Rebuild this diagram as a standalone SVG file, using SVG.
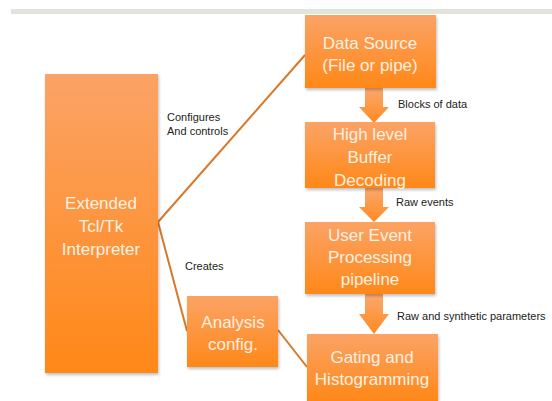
<svg xmlns="http://www.w3.org/2000/svg" width="552" height="401" viewBox="0 0 552 401">
<defs>
<linearGradient id="og" x1="0" y1="0" x2="0" y2="1">
<stop offset="0" stop-color="#fba366"/>
<stop offset="1" stop-color="#ff8818"/>
</linearGradient>
<linearGradient id="ag" x1="0" y1="0" x2="0" y2="1">
<stop offset="0" stop-color="#fba86e"/>
<stop offset="1" stop-color="#ff8a22"/>
</linearGradient>
<filter id="sh" x="-10%" y="-10%" width="130%" height="130%">
<feDropShadow dx="1" dy="2" stdDeviation="1.5" flood-color="#000" flood-opacity="0.25"/>
</filter>
<style>
.box{fill:url(#og);filter:url(#sh)}
.bt{font-family:"Liberation Sans",Arial,sans-serif;font-size:17px;fill:#fff0e2;text-anchor:middle;dominant-baseline:central}
.lb{font-family:"Liberation Sans",Arial,sans-serif;font-size:11px;fill:#222;dominant-baseline:central}
.ln{stroke:#d8782a;stroke-width:2;fill:none}
.ar{fill:url(#ag)}
</style>
</defs>
<rect x="0" y="0" width="552" height="401" fill="#fff"/>
<rect x="11" y="9" width="541" height="5" fill="#e2e3dc"/>

<g id="connectors">
<line class="ln" x1="158" y1="222" x2="305" y2="55"/>
<line class="ln" x1="158" y1="222" x2="187" y2="331"/>
<line class="ln" x1="278" y1="330" x2="307" y2="367"/>
<path class="ar" d="M365,88 H383 V107 H389 L374,123 L359,107 H365 Z"/>
<path class="ar" d="M365,188 H383 V207 H389 L374,222 L359,207 H365 Z"/>
<path class="ar" d="M365,294 H383 V314 H389 L374,334 L359,314 H365 Z"/>
<text class="lb" x="167" y="117">Configures</text>
<text class="lb" x="167" y="131">And controls</text>
<text class="lb" x="185" y="266">Creates</text>
<text class="lb" x="398" y="104">Blocks of data</text>
<text class="lb" x="396" y="202">Raw events</text>
<text class="lb" x="397" y="316">Raw and synthetic  parameters</text>
</g>

<g id="interp">
<rect class="box" x="45" y="74" width="113" height="299"/>
<text class="bt" x="101" y="203">Extended</text>
<text class="bt" x="101" y="226">Tcl/Tk</text>
<text class="bt" x="101" y="249">Interpreter</text>
</g>

<g id="datasource">
<rect class="box" x="305" y="15" width="131" height="73"/>
<text class="bt" x="370" y="43">Data Source</text>
<text class="bt" x="370" y="65">(File or pipe)</text>
</g>

<g id="decoding">
<rect class="box" x="305" y="122" width="130" height="66"/>
<text class="bt" x="370" y="134">High level</text>
<text class="bt" x="370" y="157">Buffer</text>
<text class="bt" x="370" y="180">Decoding</text>
</g>

<g id="userevent">
<rect class="box" x="305" y="222" width="130" height="72"/>
<text class="bt" x="370" y="235">User Event</text>
<text class="bt" x="370" y="257">Processing</text>
<text class="bt" x="370" y="279">pipeline</text>
</g>

<g id="analysis">
<rect class="box" x="187" y="296" width="91" height="71"/>
<text class="bt" x="233" y="322">Analysis</text>
<text class="bt" x="233" y="344">config.</text>
</g>

<g id="gating">
<rect class="box" x="307" y="334" width="131" height="67"/>
<text class="bt" x="372" y="357">Gating and</text>
<text class="bt" x="372" y="379">Histogramming</text>
</g>
</svg>
